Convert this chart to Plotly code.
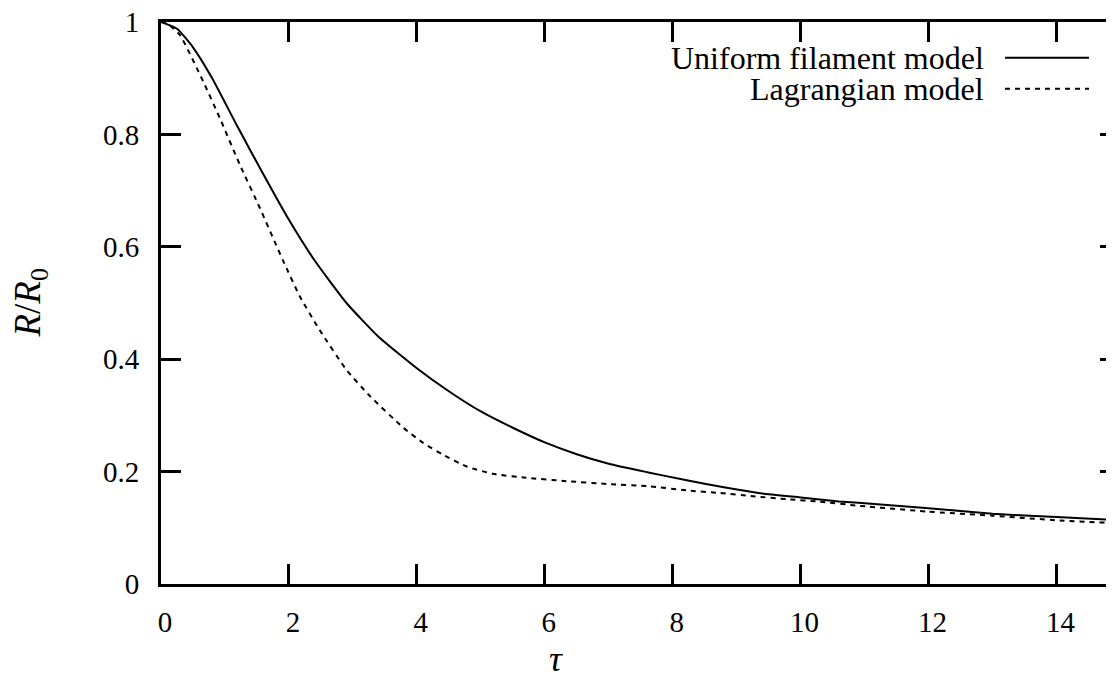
import plotly.graph_objects as go

# Uniform filament model (solid)
tau_uniform = [0, 0.25, 0.5, 0.8, 1.2, 1.6, 2.0, 2.4, 2.9, 3.4, 4.0, 4.5, 5.0, 5.5, 6.0,
               6.5, 7.0, 7.6, 8.2, 8.8, 9.4, 10.0, 10.6, 11.2, 12.0, 13.0, 14.0, 14.9]
r_uniform = [1.0, 0.988, 0.955, 0.900, 0.813, 0.729, 0.648, 0.576, 0.500, 0.440, 0.384,
             0.343, 0.307, 0.278, 0.252, 0.231, 0.214, 0.199, 0.185, 0.172, 0.161, 0.154,
             0.147, 0.142, 0.135, 0.125, 0.119, 0.114]

# Lagrangian model (dashed)
tau_lagr = [0, 0.1, 0.295, 0.66, 0.92, 1.233, 1.546, 1.91, 2.17, 2.48, 2.9, 3.27, 3.79, 4.1,
            4.41, 4.78, 5.19, 5.71, 6.34, 6.97, 7.62, 8.22, 8.74, 9.26, 9.78, 10.3, 10.93,
            11.97, 13.01, 14.05, 14.9]
r_lagr = [1.0, 0.997, 0.977, 0.894, 0.829, 0.746, 0.669, 0.575, 0.512, 0.452, 0.381, 0.334,
          0.278, 0.251, 0.230, 0.209, 0.196, 0.189, 0.183, 0.178, 0.174, 0.1665, 0.162, 0.156,
          0.151, 0.1465, 0.139, 0.129, 0.1215, 0.113, 0.1085]

x_ticks = [0, 2, 4, 6, 8, 10, 12, 14]
y_ticks = [0, 0.2, 0.4, 0.6, 0.8, 1]
y_tick_text = ["0", "0.2", "0.4", "0.6", "0.8", "1"]
series_names = ["Uniform filament model", "Lagrangian model"]

FONT = "Liberation Serif"
OFF = 8  # page body margin
W, H = 1106, 675
L, T = 153.1, 14.3
B = H - (584.3 - OFF)
pw = W - L
ph = H - T - B

def px(x):  # page pixel -> paper
    return (x - OFF - L) / pw

def py(y):
    return (H - B - (y - OFF)) / ph

fig = go.Figure()
fig.add_trace(go.Scatter(x=tau_uniform, y=r_uniform, mode="lines", name=series_names[0],
                         line=dict(color="black", width=2, shape="spline", smoothing=0.5),
                         showlegend=False))
fig.add_trace(go.Scatter(x=tau_lagr, y=r_lagr, mode="lines", name=series_names[1],
                         line=dict(color="black", width=2, dash="5px,5px", shape="spline", smoothing=0.5),
                         showlegend=False))
fig.add_trace(go.Scatter(x=[0], y=[0], yaxis="y2", mode="lines", line=dict(width=0),
                         showlegend=False, hoverinfo="skip"))

fig.update_layout(
    width=W, height=H,
    margin=dict(l=L, r=0, t=T, b=B, autoexpand=False),
    plot_bgcolor="white", paper_bgcolor="white",
    font=dict(family=FONT, size=29, color="black"),
    xaxis=dict(range=[0, 14.9], tickvals=x_ticks, ticks="inside", ticklen=20, tickwidth=3,
               tickcolor="black", showline=True, linewidth=3, linecolor="black",
               mirror="ticks", showgrid=False, zeroline=False,
               ticklabelstandoff=10, ticklabelshift=4, ticklabeloverflow="allow",
               tickfont=dict(family=FONT, size=29, color="black")),
    yaxis=dict(range=[0, 1], tickvals=y_ticks, ticktext=y_tick_text, ticks="inside",
               ticklen=20, tickwidth=3, tickcolor="black", showline=True, linewidth=3,
               linecolor="black", mirror=False, showgrid=False, zeroline=False,
               ticklabelstandoff=13, ticklabeloverflow="allow",
               tickfont=dict(family=FONT, size=29, color="black")),
    yaxis2=dict(range=[0, 1], overlaying="y", side="right", tickvals=y_ticks,
                ticks="inside", ticklen=14, tickwidth=3, tickcolor="black",
                showline=False, showgrid=False, zeroline=False, showticklabels=False),
)

rows = [(58, "solid"), (89, "5px,5px")]
for name, (yy, dash) in zip(series_names, rows):
    fig.add_annotation(x=px(986), y=py(yy), xref="paper", yref="paper", text=name,
                       showarrow=False, xanchor="right", yanchor="middle",
                       font=dict(family=FONT, size=32, color="black"))
    fig.add_shape(type="line", xref="paper", yref="paper", x0=px(1005), x1=px(1089),
                  y0=py(yy), y1=py(yy), line=dict(color="black", width=2, dash=dash))

fig.add_annotation(x=px(556), y=py(659), xref="paper", yref="paper", text="<i>τ</i>",
                   showarrow=False, xanchor="center", yanchor="middle",
                   font=dict(family=FONT, size=36, color="black"))
fig.add_annotation(x=px(31), y=py(303), xref="paper", yref="paper",
                   text="<i>R</i>/<i>R</i><sub>0</sub>", textangle=-90,
                   showarrow=False, xanchor="center", yanchor="middle",
                   font=dict(family=FONT, size=37, color="black"))

fig.write_html("out.html")
